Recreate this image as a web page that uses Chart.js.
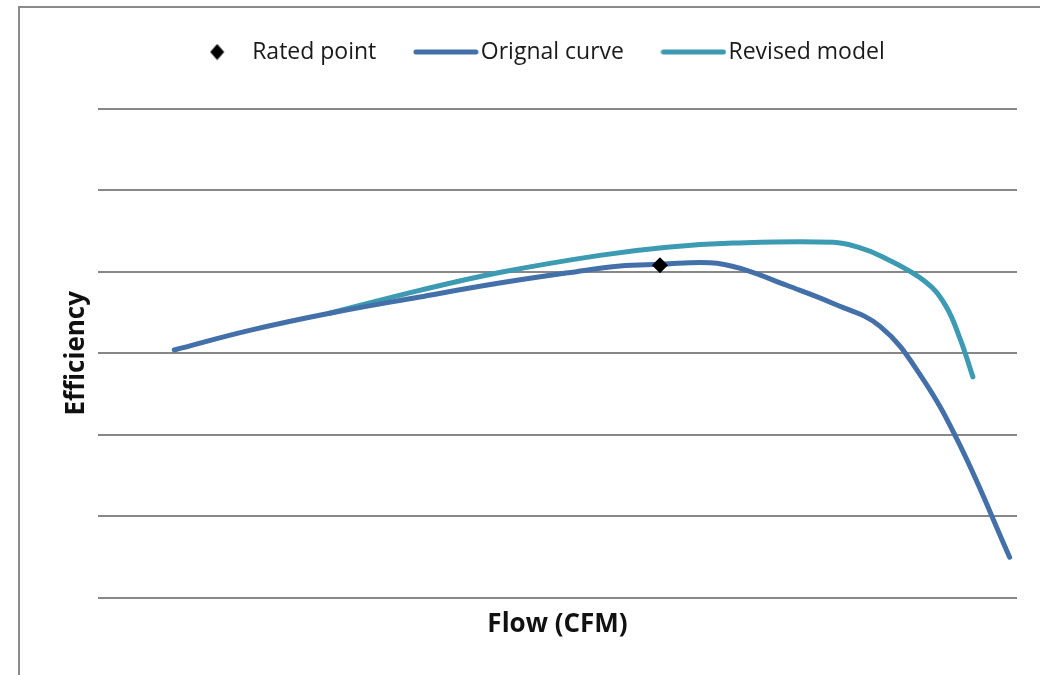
<!DOCTYPE html>
<html>
<head>
<meta charset="utf-8">
<script src="https://cdn.jsdelivr.net/npm/chart.js@4/dist/chart.umd.min.js"></script>
<style>
  html, body { margin: 0; padding: 0; background: #fff; overflow: hidden; }
  #frame { position: absolute; left: 18px; top: 6px; width: 1100px; height: 760px;
           border-left: 2px solid #8a8a8a; border-top: 2px solid #8a8a8a; }
  #wrap { position: absolute; left: 0; top: 0; width: 1040px; height: 675px; }
</style>
</head>
<body>
<div id="frame"></div>
<div id="wrap"><canvas id="c" width="1040" height="675"></canvas></div>
<script>
// Flow (relative, 0-100 across the plot) and efficiency (relative gridline units)
const originalFlow = [8.3, 16.5, 25.2, 35.0, 43.7, 51.4, 56.8, 61.2, 66.6, 69.9, 75.0, 80.0, 85.1, 89.5, 93.8, 99.2];
const originalEff  = [3.04, 3.28, 3.49, 3.69, 3.86, 3.99, 4.07, 4.09, 4.11, 4.04, 3.83, 3.61, 3.33, 2.73, 1.87, 0.50];
const revisedFlow  = [25.2, 35.0, 43.7, 54.6, 61.9, 69.1, 80.0, 82.7, 85.4, 90.0, 92.2, 93.8, 95.2];
const revisedEff   = [3.49, 3.77, 3.99, 4.20, 4.30, 4.35, 4.36, 4.30, 4.18, 3.88, 3.59, 3.18, 2.71];
const ratedFlow = [61.15];
const ratedEff  = [4.08];
const seriesNames = ['Rated point', 'Orignal curve', 'Revised model'];
const yGridValues = [0, 1, 2, 3, 4, 5, 6];

const BLUE = '#4470AA';
const TEAL = '#3C9AB2';

const toPts = (xs, ys) => xs.map((x, i) => ({x: x, y: ys[i]}));

function lineIcon(color) {
  const c = document.createElement('canvas');
  c.width = 66; c.height = 6;
  const g = c.getContext('2d');
  g.strokeStyle = color; g.lineWidth = 5; g.lineCap = 'round';
  g.beginPath(); g.moveTo(3, 3); g.lineTo(63, 3); g.stroke();
  return c;
}
function diamondIcon() {
  const c = document.createElement('canvas');
  c.width = 15; c.height = 17;
  const g = c.getContext('2d');
  g.fillStyle = '#000';
  g.beginPath(); g.moveTo(7.5, 0.5); g.lineTo(14.5, 8.5); g.lineTo(7.5, 16.5); g.lineTo(0.5, 8.5); g.closePath(); g.fill();
  return c;
}
const icons = [diamondIcon(), lineIcon(BLUE), lineIcon(TEAL)];

const chart = new Chart(document.getElementById('c'), {
  type: 'scatter',
  data: {
    datasets: [
      { label: seriesNames[0], data: toPts(ratedFlow, ratedEff), showLine: false,
        pointStyle: 'rectRot', pointRadius: 8, pointHoverRadius: 8,
        backgroundColor: '#000', borderColor: '#000', borderWidth: 0 },
      { label: seriesNames[1], data: toPts(originalFlow, originalEff), showLine: true,
        borderColor: BLUE, borderWidth: 5, pointRadius: 0, tension: 0.4,
        borderCapStyle: 'round', borderJoinStyle: 'round' },
      { label: seriesNames[2], data: toPts(revisedFlow, revisedEff), showLine: true,
        borderColor: TEAL, borderWidth: 5, pointRadius: 0, tension: 0.4,
        borderCapStyle: 'round', borderJoinStyle: 'round' }
    ]
  },
  options: {
    responsive: false,
    animation: false,
    layout: { padding: { left: 61.4, right: 23, top: -5.5, bottom: 34.4 } },
    plugins: {
      tooltip: { enabled: false },
      legend: {
        display: true,
        position: 'top',
        labels: {
          usePointStyle: true,
          pointStyleWidth: 47,
          padding: 46,
          color: '#1a1a1a',
          font: { family: 'Open Sans', size: 23 },
          generateLabels: (chart) => chart.data.datasets.map((ds, i) => ({
            text: ds.label,
            pointStyle: icons[i],
            fillStyle: 'transparent',
            strokeStyle: 'transparent',
            lineWidth: 0,
            hidden: false,
            datasetIndex: i,
            fontColor: '#1a1a1a'
          }))
        }
      }
    },
    scales: {
      x: {
        type: 'linear', min: 0, max: 100,
        grid: { display: false, drawTicks: false },
        border: { display: false },
        ticks: { display: false },
        title: { display: true, text: 'Flow (CFM)', color: '#111',
                 font: { family: 'Open Sans', size: 26, weight: 'bold' }, padding: 0 },
        afterFit: (s) => { s.height = 42.6; }
      },
      spacer: {
        type: 'linear', position: 'top', min: 0, max: 1,
        grid: { display: false, drawTicks: false },
        border: { display: false },
        ticks: { display: false },
        afterFit: (s) => { s.height = 35; }
      },
      y: {
        type: 'linear', min: yGridValues[0], max: yGridValues[yGridValues.length - 1],
        afterBuildTicks: (s) => { s.ticks = yGridValues.map(v => ({value: v})); },
        grid: { color: '#878787', lineWidth: 2, drawTicks: false },
        border: { display: false },
        ticks: { display: false },
        title: { display: true, text: 'Efficiency', color: '#111',
                 font: { family: 'Open Sans', size: 26, weight: 'bold' }, padding: 0 },
        afterFit: (s) => { s.width = 36.6; }
      }
    }
  }
});
</script>
</body>
</html>
